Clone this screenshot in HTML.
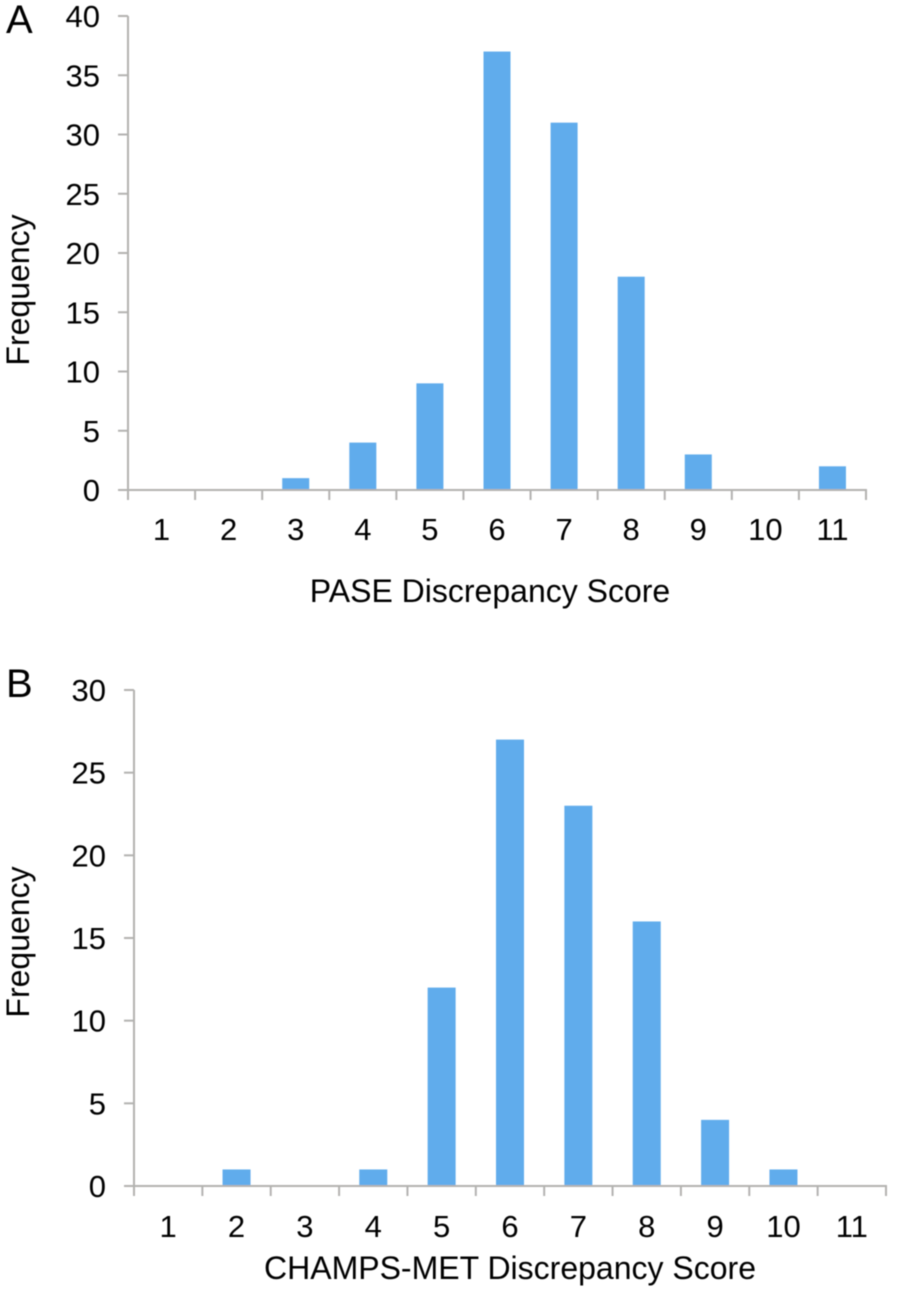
<!DOCTYPE html>
<html>
<head>
<meta charset="utf-8">
<style>
html,body{margin:0;padding:0;background:#fff;}
svg{display:block;}
text{font-family:"Liberation Sans",Arial,sans-serif;fill:#000;}
</style>
</head>
<body>
<svg id="figure" width="900" height="1301" viewBox="0 0 900 1301" xmlns="http://www.w3.org/2000/svg">
<defs><filter id="soft" x="-5%" y="-5%" width="110%" height="110%"><feGaussianBlur stdDeviation="0.45"/></filter></defs>
<rect width="900" height="1301" fill="#fff"/>
</svg>
<script>
const categories = ['1','2','3','4','5','6','7','8','9','10','11'];
const paseValues = [0,0,1,4,9,37,31,18,3,0,2];
const champsValues = [0,1,0,1,12,27,23,16,4,1,0];
const paseTicks = [0,5,10,15,20,25,30,35,40];
const champsTicks = [0,5,10,15,20,25,30];

const NS = 'http://www.w3.org/2000/svg';
const svg = document.getElementById('figure');

function make(tag, attrs, parent, txt) {
  const el = document.createElementNS(NS, tag);
  for (const k in attrs) el.setAttribute(k, attrs[k]);
  if (txt !== undefined) el.textContent = txt;
  parent.appendChild(el);
  return el;
}

function drawPanel(cfg) {
  const g = make('g', {filter: 'url(#soft)'}, svg);
  
  
  const maxV = cfg.ticks[cfg.ticks.length - 1];
  const y = v => cfg.y0 - (v / maxV) * (cfg.y0 - cfg.yTop);
  const step = (cfg.xRight - cfg.xLeft) / cfg.cats.length;
  const x = i => cfg.xLeft + step * i;

  const letter = make('text', {x: cfg.letterX, y: cfg.letterY, 'font-size': 40}, g, cfg.letter);
  
  

  cfg.values.forEach((v, i) => {
    const bar = make('rect', {
      x: x(i) + (step - cfg.barW) / 2,
      y: y(v),
      width: cfg.barW,
      height: cfg.y0 - y(v),
      fill: '#60acec'
    }, g);
    
    
  });

  const stroke = '#b3b2b0';
  const yAxis = make('line', {x1: cfg.xLeft, x2: cfg.xLeft, y1: cfg.yTop, y2: cfg.y0 + 10, stroke: stroke, 'stroke-width': 2}, g);
  
  
  const xAxis = make('line', {x1: cfg.xLeft - 10, x2: cfg.xRight + 1, y1: cfg.y0, y2: cfg.y0, stroke: stroke, 'stroke-width': 2}, g);
  
  

  cfg.ticks.forEach(t => {
    const tick = make('line', {x1: cfg.xLeft - 10, x2: cfg.xLeft, y1: y(t), y2: y(t), stroke: stroke, 'stroke-width': 2}, g);
    
    
    const lab = make('text', {x: cfg.xLeft - 28, y: y(t) + 11, 'font-size': 31, 'text-anchor': 'end'}, g, String(t));
    
    
  });

  for (let i = 0; i <= cfg.cats.length; i++) {
    const tick = make('line', {x1: x(i), x2: x(i), y1: cfg.y0, y2: cfg.y0 + 10, stroke: stroke, 'stroke-width': 2}, g);
    
    
  }

  cfg.cats.forEach((c, i) => {
    const lab = make('text', {x: x(i) + step / 2, y: cfg.y0 + cfg.xLabelGap, 'font-size': 31, 'text-anchor': 'middle'}, g, c);
    
    
  });

  const xTitle = make('text', {x: cfg.xTitleX, y: cfg.xTitleY, 'font-size': 32, 'text-anchor': 'middle'}, g, cfg.xTitle);
  
  

  const yTitle = make('text', {
    transform: 'translate(' + cfg.yTitleX + ' ' + cfg.yTitleY + ') rotate(-90)',
    'font-size': 32,
    'text-anchor': 'middle'
  }, g, 'Frequency');
  
  
}

drawPanel({
  id: 'pase', letter: 'A', letterX: 6, letterY: 33,
  cats: categories, values: paseValues, ticks: paseTicks,
  xLeft: 128, xRight: 866, y0: 490, yTop: 16, barW: 27, xLabelGap: 50,
  xTitle: 'PASE Discrepancy Score', xTitleX: 490, xTitleY: 602,
  yTitleX: 29, yTitleY: 290
});
drawPanel({
  id: 'champs', letter: 'B', letterX: 6, letterY: 697,
  cats: categories, values: champsValues, ticks: champsTicks,
  xLeft: 134, xRight: 886, y0: 1186, yTop: 690, barW: 28, xLabelGap: 51,
  xTitle: 'CHAMPS-MET Discrepancy Score', xTitleX: 510, xTitleY: 1279,
  yTitleX: 29, yTitleY: 942
});
</script>
</body>
</html>
